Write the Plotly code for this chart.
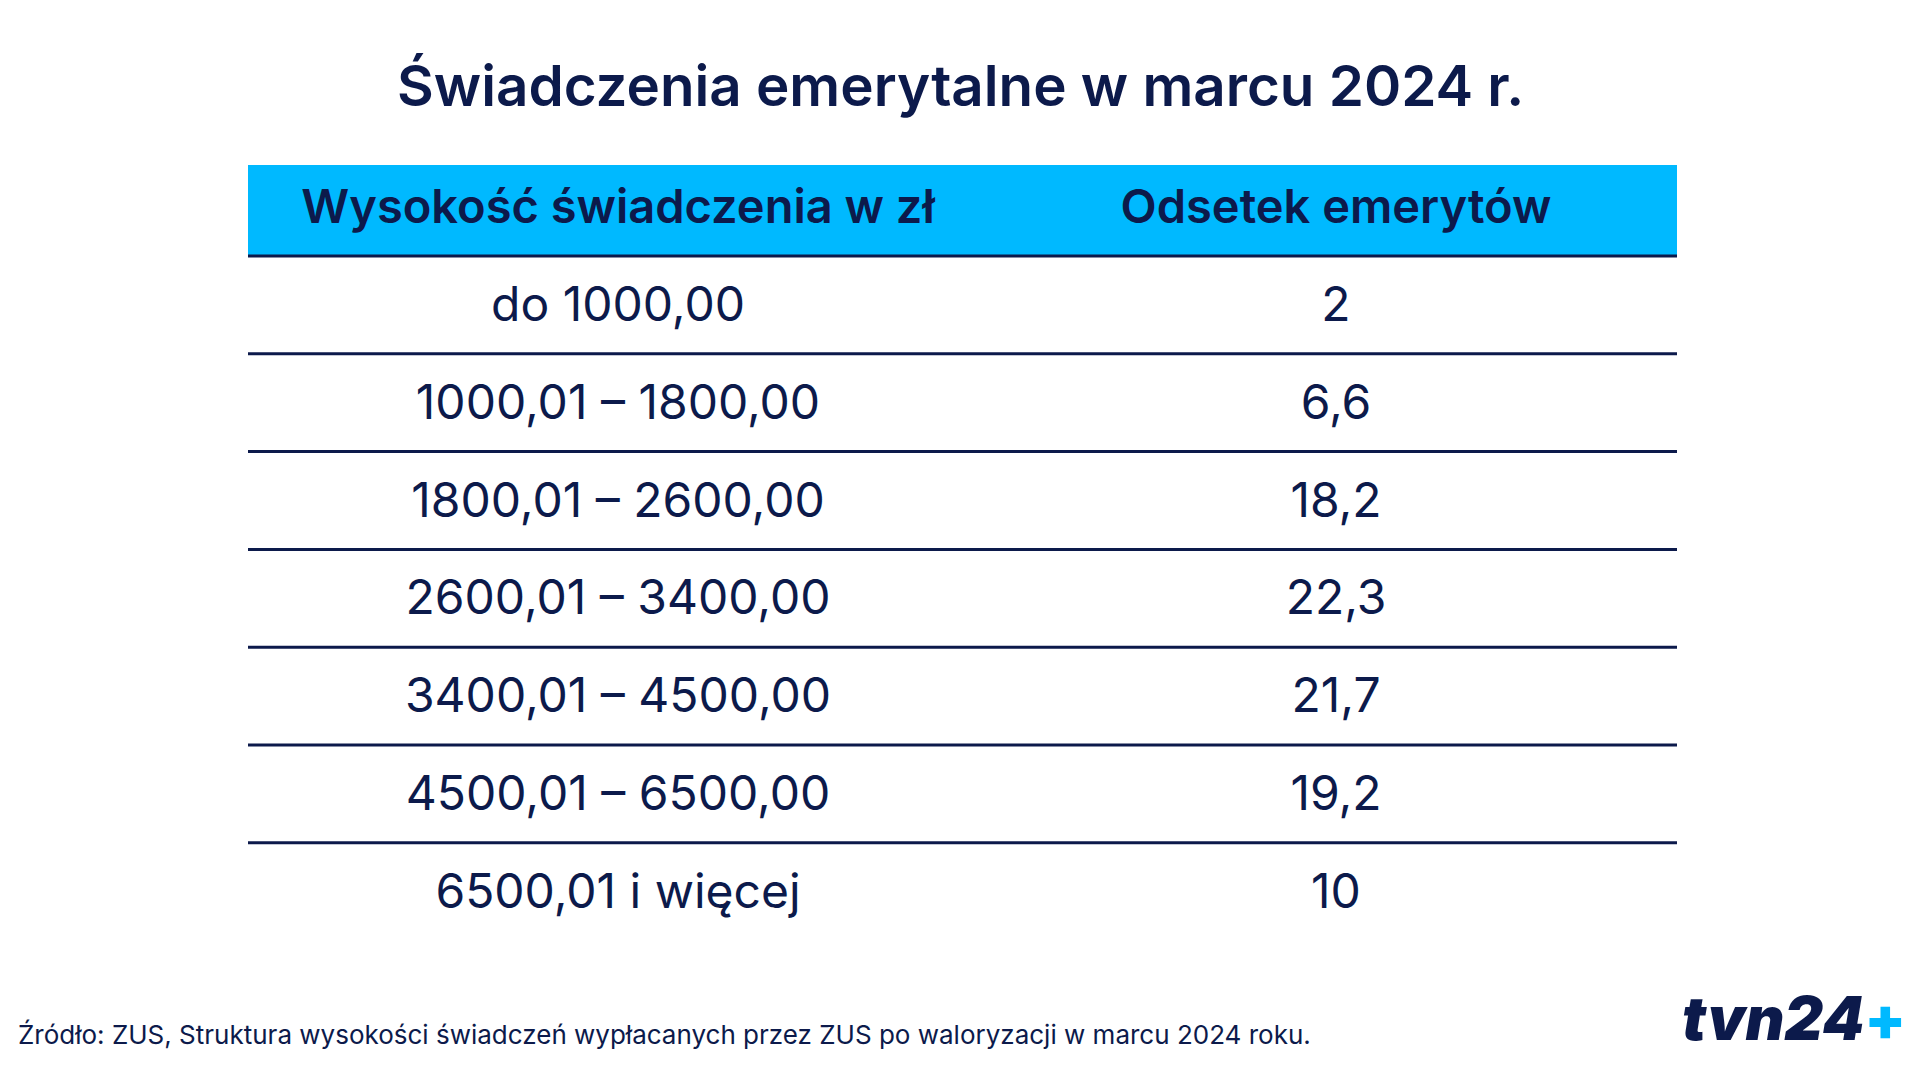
import plotly.graph_objects as go

# table content
title = "Świadczenia emerytalne w marcu 2024 r."
headers = ["Wysokość świadczenia w zł", "Odsetek emerytów"]
ranges = ["do 1000,00", "1000,01 – 1800,00", "1800,01 – 2600,00", "2600,01 – 3400,00",
          "3400,01 – 4500,00", "4500,01 – 6500,00", "6500,01 i więcej"]
shares = ["2", "6,6", "18,2", "22,3", "21,7", "19,2", "10"]
source = "Źródło: ZUS, Struktura wysokości świadczeń wypłacanych przez ZUS po waloryzacji w marcu 2024 roku."

NAVY = "#0c1a4b"
CYAN = "#00b9ff"
FONT = "Inter"

W, H = 1920, 1074
x0, x1 = 240, 1669
col_x = [610, 1328]
head_top, head_bot = 157, 248
row_h = 97.8
row_y = [head_bot + 4 + (i + 0.5) * row_h for i in range(len(ranges))]

fig = go.Figure()
fig.add_shape(type="rect", x0=x0, x1=x1, y0=head_top, y1=head_bot,
              fillcolor=CYAN, line_width=0, layer="below")
fig.add_shape(type="line", x0=x0, x1=x1, y0=head_bot, y1=head_bot,
              line=dict(color=NAVY, width=3))
for i in range(1, len(ranges)):
    y = head_bot + i * row_h
    fig.add_shape(type="line", x0=x0, x1=x1, y0=y, y1=y, line=dict(color=NAVY, width=3))

fig.add_trace(go.Scatter(x=col_x, y=[(head_top + head_bot) / 2 + 1] * 2, mode="text", text=headers,
                         textfont=dict(family=FONT, size=47, color=NAVY, weight=600)))
fig.add_trace(go.Scatter(x=[col_x[0]] * len(ranges), y=row_y, mode="text", text=ranges,
                         textfont=dict(family=FONT, size=48, color=NAVY)))
fig.add_trace(go.Scatter(x=[col_x[1]] * len(shares), y=row_y, mode="text", text=shares,
                         textfont=dict(family=FONT, size=48, color=NAVY)))

fig.add_annotation(x=952, y=77, text=title, showarrow=False,
                   font=dict(family=FONT, size=56.5, color=NAVY, weight=600))
fig.add_annotation(x=8, y=1026, text=source, showarrow=False, xanchor="left",
                   font=dict(family=FONT, size=26, color=NAVY))
fig.add_annotation(x=1900, y=1010, xanchor="right", showarrow=False,
                   text=f"<i>tvn24</i><span style='color:{CYAN}'>+</span>",
                   font=dict(family=FONT, size=60, color=NAVY, weight=900))

fig.update_xaxes(range=[0, W], visible=False, fixedrange=True)
fig.update_yaxes(range=[H, 0], visible=False, fixedrange=True)
fig.update_layout(width=W, height=H, margin=dict(l=0, r=0, t=0, b=0),
                  plot_bgcolor="white", paper_bgcolor="white", showlegend=False)
fig.write_html("out.html")
